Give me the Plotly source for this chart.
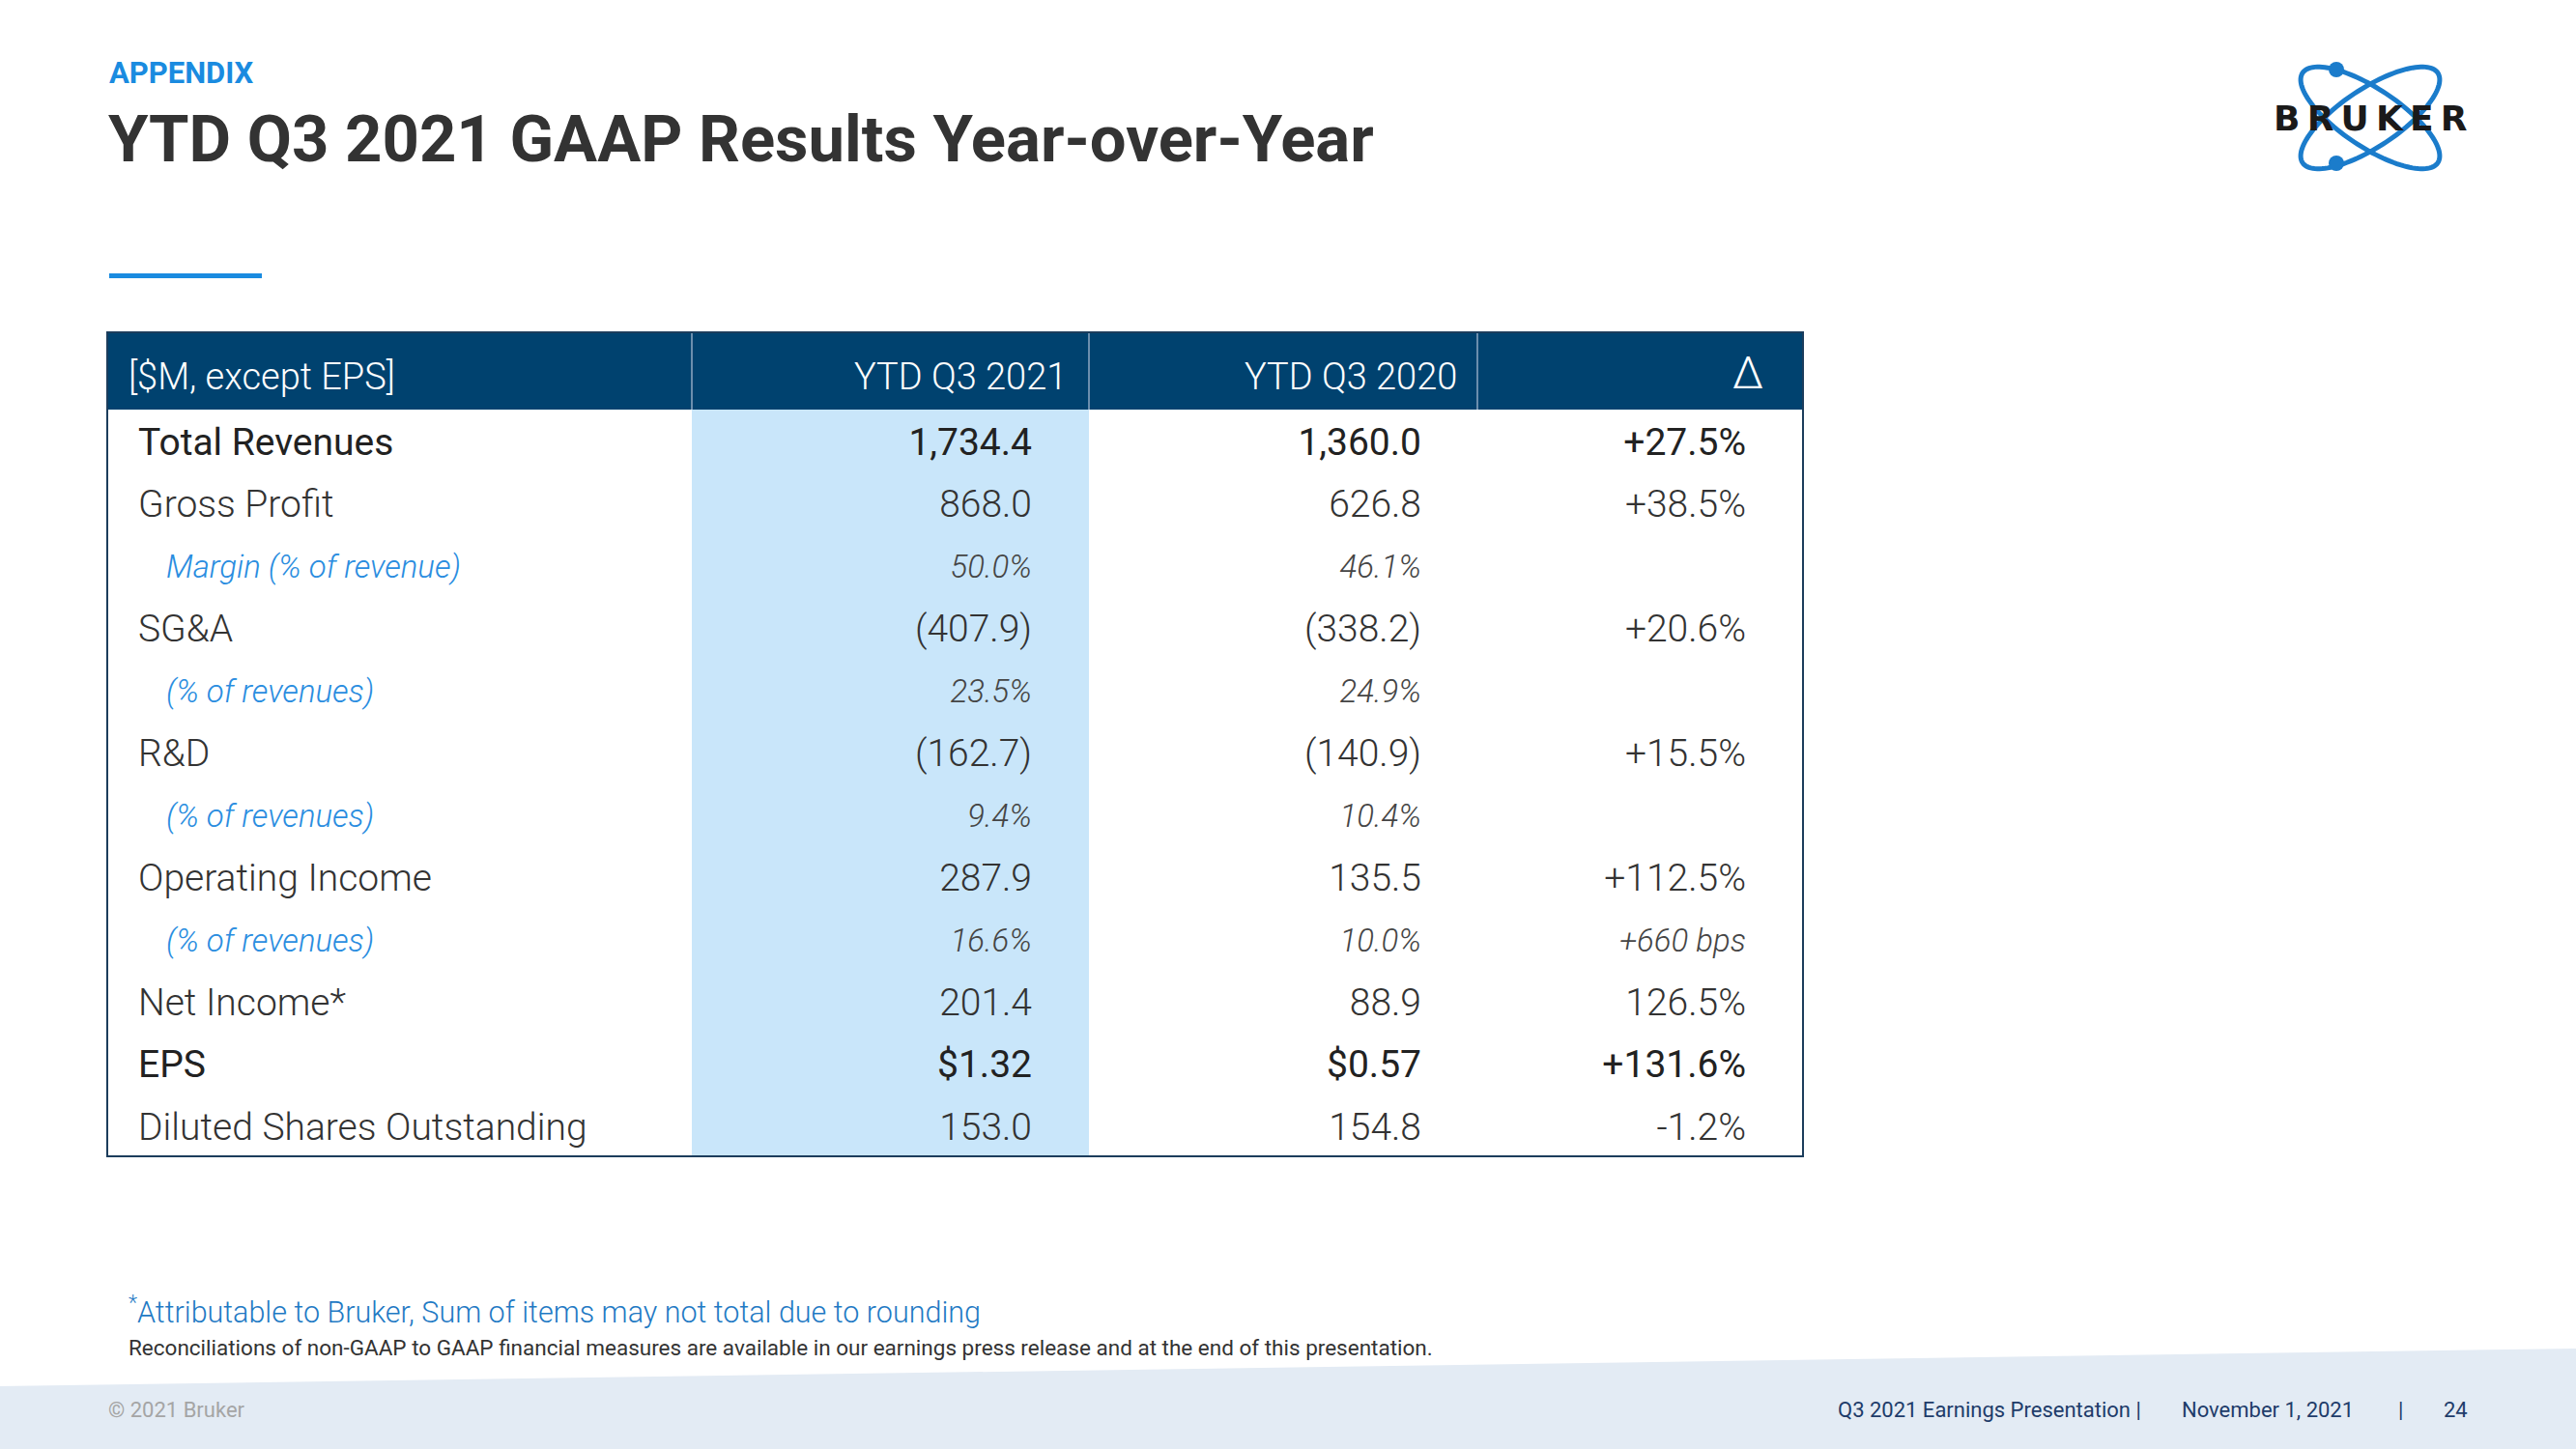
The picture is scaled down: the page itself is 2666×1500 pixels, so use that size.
import numpy as np
import plotly.graph_objects as go

W, H = 2666, 1500

# ---------------- data ----------------
col_headers = ["[$M, except EPS]", "YTD Q3 2021", "YTD Q3 2020", "Δ"]
row_labels = ["Total Revenues", "Gross Profit", "Margin (% of revenue)", "SG&A",
              "(% of revenues)", "R&D", "(% of revenues)", "Operating Income",
              "(% of revenues)", "Net Income*", "EPS", "Diluted Shares Outstanding"]
row_kind = ["bold", "main", "sub", "main", "sub", "main", "sub", "main", "sub",
            "main", "bold", "main"]
row_format = ["num", "num", "pct", "num", "pct", "num", "pct", "num", "pct",
              "num", "eps", "num"]
ytd_2021 = [1734.4, 868.0, 50.0, -407.9, 23.5, -162.7, 9.4, 287.9, 16.6, 201.4, 1.32, 153.0]
ytd_2020 = [1360.0, 626.8, 46.1, -338.2, 24.9, -140.9, 10.4, 135.5, 10.0, 88.9, 0.57, 154.8]
delta = ["+27.5%", "+38.5%", "", "+20.6%", "", "+15.5%", "", "+112.5%", "+660 bps",
         "126.5%", "+131.6%", "-1.2%"]


def fmt(v, f):
    if f == "pct":
        return f"{v:.1f}%"
    if f == "eps":
        return f"${v:.2f}"
    s = f"{abs(v):,.1f}"
    return f"({s})" if v < 0 else s


def py(px):  # pixel-from-top -> paper y
    return 1 - px / H


FONT = "Roboto"
LIGHT = "Roboto Light, Roboto"
NAVY = "#00426f"
rows = list(range(len(row_labels)))

# ---------------- layout geometry ----------------
TBL_L, TBL_R = 111, 1866
HDR_T, HDR_B, TBL_B = 344, 424, 1197
COL_X = [716, 1127, 1529]

label_size = [39 if k != "sub" else 33 for k in row_kind]
value_size = [39 if k != "sub" else 33 for k in row_kind]
weights = [400 if k == "bold" else 300 for k in row_kind]
families = [FONT if k == "bold" else LIGHT for k in row_kind]
styles = ["italic" if k == "sub" else "normal" for k in row_kind]
label_col = ["#222222" if k == "bold" else ("#2a8de0" if k == "sub" else "#333333") for k in row_kind]
value_col = ["#222222" if k == "bold" else ("#454545" if k == "sub" else "#333333") for k in row_kind]
label_x = [172 if k == "sub" else 143 for k in row_kind]

fig = go.Figure()

fig.add_trace(go.Scatter(
    x=label_x, y=rows, text=row_labels, mode="text", textposition="middle right",
    textfont=dict(family=families, size=label_size, color=label_col, weight=weights, style=styles),
    hoverinfo="skip"))

for colx, vals in [(1068, [fmt(v, f) for v, f in zip(ytd_2021, row_format)]),
                   (1471, [fmt(v, f) for v, f in zip(ytd_2020, row_format)]),
                   (1807, delta)]:
    keep = [i for i in rows if vals[i] != ""]
    fig.add_trace(go.Scatter(
        x=[colx] * len(keep), y=keep, text=[vals[i] for i in keep], mode="text",
        textposition="middle left",
        textfont=dict(family=[families[i] for i in keep], size=[value_size[i] for i in keep],
                      color=[value_col[i] for i in keep], weight=[weights[i] for i in keep],
                      style=[styles[i] for i in keep]),
        hoverinfo="skip"))

shapes = []
# light-blue highlighted column
shapes.append(dict(type="rect", xref="x", yref="paper", x0=COL_X[0], x1=COL_X[1],
                   y0=py(TBL_B), y1=py(HDR_B), fillcolor="#c9e6fa", line_width=0, layer="below"))
# header band
shapes.append(dict(type="rect", xref="x", yref="paper", x0=TBL_L, x1=TBL_R,
                   y0=py(HDR_B), y1=py(HDR_T), fillcolor=NAVY, line_width=0, layer="below"))
for cx in COL_X:
    shapes.append(dict(type="line", xref="x", yref="paper", x0=cx, x1=cx,
                       y0=py(HDR_B), y1=py(HDR_T), line=dict(color="#8fa9c2", width=1.5)))
# table border
shapes.append(dict(type="rect", xref="x", yref="paper", x0=TBL_L, x1=TBL_R,
                   y0=py(TBL_B), y1=py(HDR_T), line=dict(color="#1c3d5c", width=2)))
# title underline
shapes.append(dict(type="rect", xref="x", yref="paper", x0=113, x1=271,
                   y0=py(288), y1=py(283), fillcolor="#1a8be0", line_width=0))
# footer band
shapes.append(dict(type="path", xref="x", yref="paper",
                   path=f"M0,{py(1435)} L{W},{py(1396)} L{W},{py(1500)} L0,{py(1500)} Z",
                   fillcolor="#e3ebf4", line_width=0, layer="below"))
# logo orbits
cx, cy, a, b = 2453, 122, 84, 30
t = np.linspace(0, 2 * np.pi, 121)
for ang in (33.6, -33.6):
    th = np.radians(ang)
    xs = cx + a * np.cos(t) * np.cos(th) - b * np.sin(t) * np.sin(th)
    ys = cy + a * np.cos(t) * np.sin(th) + b * np.sin(t) * np.cos(th)
    p = "M" + " L".join(f"{x:.2f},{py(y):.5f}" for x, y in zip(xs, ys)) + " Z"
    shapes.append(dict(type="path", xref="x", yref="paper", path=p,
                       line=dict(color="#1b7ccb", width=5), fillcolor="rgba(0,0,0,0)"))
for dy in (72, 169):
    shapes.append(dict(type="circle", xref="x", yref="paper", x0=2410, x1=2426,
                       y0=py(dy + 8), y1=py(dy - 8), fillcolor="#1b7ccb", line_width=0))

ann = []


def add_text(x, y, text, size, color, anchor="left", weight=400, style="normal", family=FONT):
    ann.append(dict(x=x, y=py(y), xref="x", yref="paper", text=text, showarrow=False,
                    xanchor=anchor, yanchor="middle",
                    font=dict(family=family, size=size, color=color, weight=weight, style=style)))


add_text(111, 75, "APPENDIX", 31, "#1a8be0", weight=700)
add_text(110, 144, "YTD Q3 2021 GAAP Results Year-over-Year", 67, "#333333", weight=700)
add_text(131, 390, col_headers[0], 38, "white", weight=300, family=LIGHT)
add_text(1106, 390, col_headers[1], 38, "white", anchor="right", weight=300, family=LIGHT)
add_text(1510, 390, col_headers[2], 38, "white", anchor="right", weight=300, family=LIGHT)
add_text(1827, 386, col_headers[3], 46, "white", anchor="right", weight=300, family=LIGHT)
add_text(131, 1356, "<sup>*</sup>Attributable to Bruker, Sum of items may not total due to rounding",
         30.5, "#1f7ac4", weight=300, family=LIGHT)
add_text(131, 1395, "Reconciliations of non-GAAP to GAAP financial measures are available in our "
         "earnings press release and at the end of this presentation.", 22.5, "#333333")
add_text(110, 1459, "© 2021 Bruker", 22, "#a5a5a5")
add_text(2218, 1459, "Q3 2021 Earnings Presentation |", 22, "#1e3c6a", anchor="right")
add_text(2256, 1459, "November 1, 2021", 22, "#1e3c6a")
add_text(2484, 1459, "|", 22, "#1e3c6a", anchor="center")
add_text(2556, 1459, "24", 22, "#1e3c6a", anchor="right")
add_text(2453, 122, "B\u2009R\u2009U\u2009K\u2009E\u2009R", 36, "#1a1a1a", anchor="center",
         weight=700, family="DejaVu Sans")

SHIFT = 5  # text rows sit slightly below the geometric row centres
fig.update_layout(
    width=W, height=H, margin=dict(l=0, r=0, t=0, b=0),
    paper_bgcolor="white", plot_bgcolor="rgba(0,0,0,0)", showlegend=False,
    xaxis=dict(range=[0, W], domain=[0, 1], visible=False, fixedrange=True),
    yaxis=dict(range=[len(rows) - 0.5, -0.5],
               domain=[py(TBL_B + SHIFT), py(HDR_B + SHIFT)],
               visible=False, fixedrange=True),
    shapes=shapes, annotations=ann)

fig.write_html("out.html", config={"displayModeBar": False},
               post_script="document.body.style.margin='0px';")
